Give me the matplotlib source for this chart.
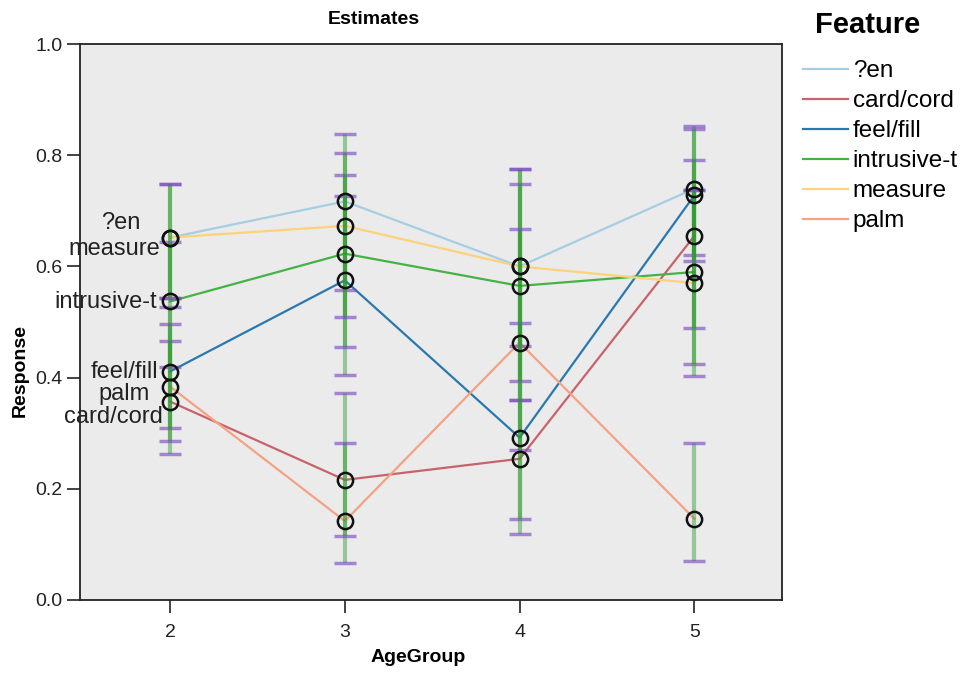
import matplotlib
matplotlib.use("Agg")
import matplotlib.pyplot as plt

plt.rcParams["font.family"] = ["Liberation Sans", "DejaVu Sans"]

# donnees
age_groups = [2, 3, 4, 5]
features = ["?en", "card/cord", "feel/fill", "intrusive-t", "measure", "palm"]

means = {
    "?en":         [0.652, 0.717, 0.600, 0.740],
    "card/cord":   [0.357, 0.216, 0.254, 0.655],
    "feel/fill":   [0.411, 0.575, 0.292, 0.728],
    "intrusive-t": [0.537, 0.623, 0.565, 0.590],
    "measure":     [0.652, 0.673, 0.600, 0.570],
    "palm":        [0.384, 0.142, 0.463, 0.146],
}
ci_low = {
    "?en":         [0.543, 0.558, 0.456, 0.620],
    "card/cord":   [0.263, 0.067, 0.145, 0.489],
    "feel/fill":   [0.309, 0.405, 0.119, 0.610],
    "intrusive-t": [0.419, 0.455, 0.360, 0.425],
    "measure":     [0.543, 0.509, 0.394, 0.403],
    "palm":        [0.286, 0.115, 0.270, 0.070],
}
ci_high = {
    "?en":         [0.748, 0.838, 0.776, 0.853],
    "card/cord":   [0.466, 0.372, 0.360, 0.791],
    "feel/fill":   [0.527, 0.727, 0.498, 0.847],
    "intrusive-t": [0.644, 0.764, 0.749, 0.737],
    "measure":     [0.748, 0.804, 0.776, 0.737],
    "palm":        [0.496, 0.282, 0.667, 0.283],
}
colors = {
    "?en": "#a6cee3",
    "card/cord": "#c8636b",
    "feel/fill": "#2a78b0",
    "intrusive-t": "#44b344",
    "measure": "#fdd27a",
    "palm": "#f4a282",
}
# position des etiquettes (decalage en pixels)
label_offsets = {
    "?en": (-30, 15),
    "measure": (-10, -11),
    "intrusive-t": (-13, -1),
    "feel/fill": (-12, 0),
    "palm": (-20, -7),
    "card/cord": (-7, -15),
}

fig = plt.figure(figsize=(9.64, 6.73), dpi=100)
ax = fig.add_axes([0.083, 0.1085, 0.728, 0.826])
ax.set_facecolor("#ebebeb")

for f in features:
    ax.plot(age_groups, means[f], color=colors[f], lw=1.6, label=f, zorder=2)

for f in features:
    ax.vlines(age_groups, ci_low[f], ci_high[f], color="#2e9a2e", alpha=0.45, lw=3, zorder=3)
    ax.plot(age_groups, ci_low[f], ls="none", marker="_", ms=16, mew=2.5,
            color="#7d4fc0", alpha=0.65, zorder=3)
    ax.plot(age_groups, ci_high[f], ls="none", marker="_", ms=16, mew=2.5,
            color="#7d4fc0", alpha=0.65, zorder=3)

for f in features:
    ax.plot(age_groups, means[f], ls="none", marker="o", ms=11, mfc="none",
            mec="#111111", mew=1.8, zorder=4)
    ax.annotate(f, (age_groups[0], means[f][0]), xytext=label_offsets[f],
                textcoords="offset pixels", ha="right", va="center",
                fontsize=17, color="#222222", zorder=5)

ax.set_xlim(1.485, 5.5)
ax.set_ylim(0, 1.0)
ax.set_xticks(age_groups)
ax.set_yticks([0.0, 0.2, 0.4, 0.6, 0.8, 1.0])
ax.set_yticklabels(["0.0", "0.2", "0.4", "0.6", "0.8", "1.0"])
ax.tick_params(labelsize=14, length=9.5, width=1.2, pad=3, colors="#222222")
ax.tick_params(axis="x", pad=8)
for s in ax.spines.values():
    s.set_linewidth(1.3)
    s.set_color("#222222")

fig.text(374 / 964, 1 - 20 / 673, "Estimates", fontsize=14, fontweight="bold",
         ha="center", va="center")
fig.text(418 / 964, 1 - 658 / 673, "AgeGroup", fontsize=14, fontweight="bold",
         ha="center", va="center")
fig.text(20 / 964, 1 - 370 / 673, "Response", fontsize=14, fontweight="bold",
         ha="center", va="center", rotation=90)

fig.text(815 / 964, 1 - 25 / 673, "Feature", fontsize=21, fontweight="bold",
         ha="left", va="center")
leg = fig.legend(*ax.get_legend_handles_labels(), loc="upper left",
                 bbox_to_anchor=(803 / 964, 1 - 60 / 673), frameon=False, fontsize=17.5,
                 borderpad=0, borderaxespad=0,
                 handlelength=1.85, handletextpad=0.2, labelspacing=0.33)

fig.savefig("out.png", dpi=100)
